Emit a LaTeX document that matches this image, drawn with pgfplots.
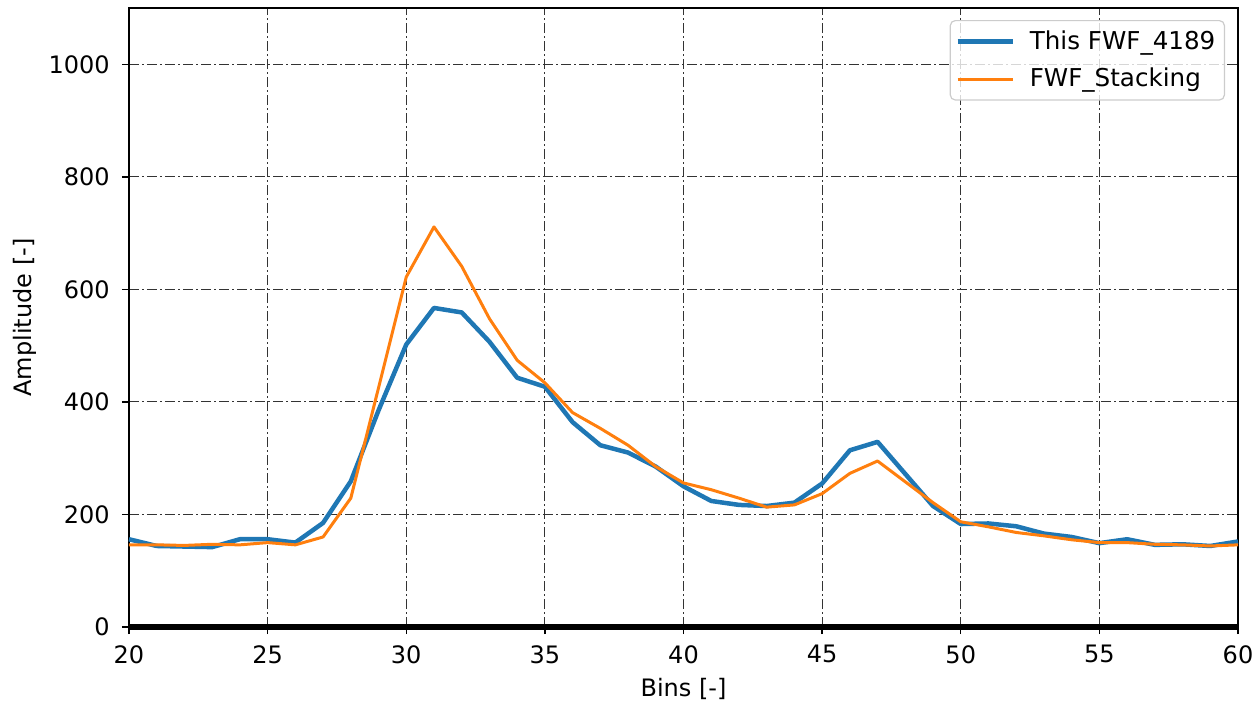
\documentclass[border=0pt]{standalone}
\usepackage{pgfplots}
\pgfplotsset{compat=1.18}
\usepackage{fontspec}
\setmainfont{DejaVu Sans}
\usetikzlibrary{calc}
\definecolor{tabblue}{HTML}{1F77B4}
\definecolor{taborange}{HTML}{FF7F0E}
\begin{document}
\begin{tikzpicture}
\begin{axis}[
  scale only axis,
  width=554.5pt, height=309.5pt,
  xmin=20, xmax=60, ymin=0, ymax=1100,
  xtick={20,25,...,60}, ytick={0,200,...,1000},
  clip=false,
  axis line style={line width=0.8pt},
  tick align=outside, major tick length=3.5pt,
  major tick style={line width=0.7pt, black},
  xtick pos=bottom, ytick pos=left,
  grid=major,
  major grid style={black!80, line width=0.55pt, dash pattern=on 5pt off 1.5pt on 1pt off 1.5pt},
  /pgf/number format/assume math mode=true,
  /pgf/number format/1000 sep={},
  tick label style={font=\fontsize{12}{14}\selectfont},
  xticklabel style={inner sep=0pt, yshift=-5.5pt},
  yticklabel style={inner sep=0pt, xshift=-6pt},
  label style={font=\fontsize{12}{14}\selectfont},
  xlabel={Bins [-]},
  ylabel={Amplitude [-]},
  xlabel style={at={(axis description cs:0.5,-0.0824)}, anchor=north, inner sep=0pt},
  ylabel style={at={(axis description cs:-0.083,0.5)}, anchor=south, inner sep=0pt},
  legend cell align=left,
  legend image code/.code={\draw[#1] (0pt,0pt) -- (27.5pt,0pt);},
  legend style={at={(1,1)}, anchor=north east, xshift=-6.5pt, yshift=-6pt,
    draw=black!20, line width=0.6pt, rounded corners=2.5pt, fill=white, fill opacity=0.8, text opacity=1,
    font=\fontsize{12.3}{14}\selectfont, inner xsep=2.5pt, inner ysep=3pt,
    nodes={inner sep=2pt}, row sep=4pt, column sep=5.5pt},
]
\addplot[tabblue, line width=2.25pt, line join=round] coordinates {
(20,156) (21,144) (22,143) (23,142) (24,156) (25,156) (26,150) (27,185) (28,259) (29,385)
(30,502) (31,567) (32,559) (33,507) (34,443) (35,427) (36,364) (37,323) (38,310) (39,285)
(40,250) (41,224) (42,217) (43,215) (44,221) (45,255) (46,314) (47,329) (48,272) (49,215)
(50,183) (51,184) (52,179) (53,166) (54,160) (55,149) (56,156) (57,146) (58,147) (59,144) (60,152)
};
\addlegendentry{This FWF\_4189}
\addplot[taborange, line width=1.5pt, line join=round] coordinates {
(20,146) (21,146) (22,145) (23,147) (24,146) (25,150) (26,146) (27,160) (28,229) (29,425)
(30,622) (31,711) (32,641) (33,548) (34,474) (35,434) (36,381) (37,353) (38,323) (39,285)
(40,256) (41,244) (42,229) (43,213) (44,217) (45,237) (46,273) (47,295) (48,258) (49,221)
(50,187) (51,178) (52,168) (53,162) (54,155) (55,150) (56,150) (57,147) (58,146) (59,144) (60,146)
};
\addlegendentry{FWF\_Stacking}
\addplot[black, line width=2.8pt, forget plot] coordinates {(20,0) (60,0)};
\end{axis}
\pgfresetboundingbox
\path[use as bounding box] ($(current axis.south west)+(-64.5pt,-38pt)$) rectangle ($(current axis.north east)+(8.5pt,4pt)$);
\end{tikzpicture}
\end{document}
